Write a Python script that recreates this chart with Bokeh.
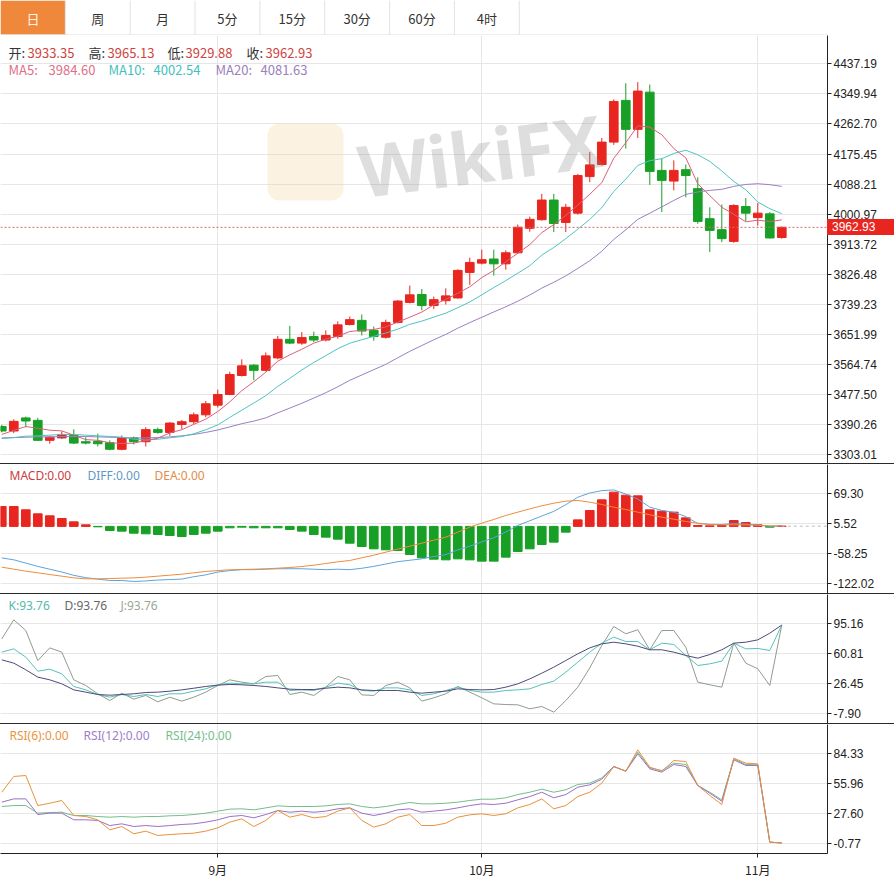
from bokeh.plotting import figure
from bokeh.models import (Range1d, LinearAxis, FixedTicker, Grid, Label, Span,
                          NumeralTickFormatter, ColumnDataSource, Div, BoxAnnotation)
from bokeh.layouts import column
from bokeh.embed import file_html
from bokeh.resources import INLINE
from bokeh.core.properties import value

# ------------------------------------------------------------------ data
TABS = ["日", "周", "月", "5分", "15分", "30分", "60分", "4时"]
MONTH_TICK_IDX = [18, 40, 63]
MONTH_LABELS = ["9月", "10月", "11月"]

PRICE_TICKS = [4437.19, 4349.94, 4262.70, 4175.45, 4088.21, 4000.97, 3913.72,
               3826.48, 3739.23, 3651.99, 3564.74, 3477.50, 3390.26, 3303.01]
MACD_TICKS = [69.30, 5.52, -58.25, -122.02]
KDJ_TICKS = [95.16, 60.81, 26.45, -7.90]
RSI_TICKS = [84.33, 55.96, 27.60, -0.77]

OPEN = [3385, 3372, 3410, 3403, 3345, 3352, 3359, 3341, 3342, 3338,
        3319, 3352, 3341, 3376, 3368, 3391, 3399, 3419, 3447, 3478,
        3533, 3563, 3548, 3584, 3638, 3627, 3646, 3636, 3646, 3681,
        3693, 3664, 3644, 3687, 3745, 3768, 3736, 3750, 3758, 3832,
        3859, 3871, 3857, 3889, 3960, 3985, 4042, 3977, 4004, 4110,
        4145, 4210, 4331, 4247, 4355, 4128, 4097, 4130, 4075, 3988,
        3956, 3922, 4023, 3991, 4002, 3933.35]
HIGH = [3390, 3406, 3414, 3410, 3358, 3371, 3377, 3354, 3364, 3345,
        3359, 3356, 3383, 3382, 3398, 3404, 3426, 3459, 3492, 3544,
        3580, 3566, 3600, 3648, 3677, 3659, 3660, 3664, 3690, 3704,
        3710, 3675, 3695, 3752, 3794, 3784, 3762, 3786, 3841, 3875,
        3898, 3898, 3896, 3971, 3994, 4060, 4060, 4031, 4118, 4181,
        4222, 4334, 4381, 4384, 4377, 4163, 4157, 4145, 4108, 4021,
        4029, 4030, 4048, 4033, 4007, 3965.13]
LOW = [3368, 3366, 3383, 3343, 3335, 3349, 3334, 3333, 3327, 3316,
       3316, 3333, 3327, 3364, 3358, 3377, 3391, 3412, 3440, 3476,
       3530, 3519, 3545, 3580, 3624, 3622, 3630, 3632, 3640, 3678,
       3649, 3634, 3640, 3684, 3742, 3722, 3726, 3739, 3756, 3796,
       3855, 3823, 3840, 3886, 3950, 3982, 3949, 3949, 4000, 4094,
       4142, 4202, 4191, 4222, 4086, 4007, 4070, 4050, 3973, 3891,
       3920, 3918, 3981, 3968, 3930, 3929.88]
CLOSE = [3372, 3400, 3401, 3345, 3354, 3362, 3337, 3337, 3335, 3319,
         3352, 3341, 3376, 3368, 3395, 3399, 3419, 3451, 3478, 3536,
         3561, 3548, 3590, 3638, 3627, 3643, 3636, 3649, 3680, 3695,
         3662, 3646, 3687, 3749, 3767, 3736, 3753, 3764, 3838, 3861,
         3869, 3857, 3889, 3963, 3986, 4042, 3974, 4021, 4113, 4144,
         4210, 4328, 4247, 4358, 4125, 4099, 4128, 4113, 3980, 3954,
         3930, 4026, 4004, 4004, 3932, 3962.93]

MA5 = [3362, 3374, 3385, 3380, 3374.4, 3372.4, 3359.8, 3347, 3345, 3338,
       3336, 3336.8, 3344.6, 3351.2, 3366.4, 3375.8, 3391.4, 3406.4, 3428.4, 3456.6,
       3489, 3514.8, 3542.6, 3574.6, 3592.8, 3609.2, 3626.8, 3638.6, 3647, 3660.6,
       3664.4, 3666.4, 3674, 3687.8, 3702.2, 3717, 3738.4, 3753.8, 3771.6, 3790.4,
       3817, 3837.8, 3862.8, 3887.8, 3912.8, 3947.4, 3970.8, 3997.2, 4027.2, 4058.8,
       4092.4, 4163.2, 4208.4, 4257.4, 4253.6, 4231.4, 4191.4, 4164.6, 4089, 4054.8,
       4021, 4000.6, 3978.8, 3983.6, 3979.2, 3984.60]
MA10 = [3350, 3353, 3357, 3358, 3360, 3362, 3362, 3360, 3358, 3356.2,
        3354.2, 3348.3, 3345.8, 3348.1, 3352.2, 3355.9, 3364.1, 3375.5, 3389.8, 3411.5,
        3432.4, 3453.1, 3474.5, 3501.5, 3524.7, 3549.1, 3570.8, 3590.6, 3610.8, 3626.7,
        3636.8, 3646.6, 3656.3, 3667.4, 3681.4, 3690.7, 3702.4, 3713.9, 3729.7, 3746.3,
        3767, 3788.1, 3808.3, 3829.7, 3851.6, 3882.2, 3904.3, 3930, 3957.5, 3985.8,
        4019.9, 4067, 4102.8, 4142.3, 4156.2, 4161.9, 4177.3, 4186.5, 4173.2, 4154.2,
        4126.2, 4096, 4071.7, 4036.3, 4017, 4002.54]
MA20 = [3352, 3353, 3354, 3355, 3355, 3356, 3356, 3356, 3355, 3354,
        3353, 3352, 3352, 3353, 3355, 3358, 3362, 3368, 3375, 3383.9,
        3393.3, 3400.7, 3410.2, 3424.8, 3438.5, 3452.5, 3467.5, 3483.1, 3500.3, 3519.1,
        3534.6, 3549.9, 3565.4, 3584.5, 3603.1, 3619.9, 3636.6, 3652.3, 3670.3, 3686.5,
        3701.9, 3717.4, 3732.3, 3748.6, 3766.5, 3786.5, 3803.4, 3822, 3843.6, 3866.1,
        3893.5, 3927.6, 3955.6, 3986, 4003.9, 4022.1, 4040.8, 4058.3, 4065.4, 4070,
        4073.1, 4081.5, 4087.3, 4089.3, 4086.6, 4081.63]

MACD_HIST = [42.3, 42.3, 35.2, 26.7, 22.5, 16.8, 9.7, 3.3, -0.9, -8.7,
             -10.1, -14.4, -15.8, -17.2, -19.4, -21.5, -17.2, -14.4, -10.1, -3.0,
             -1.6, -3.0, -3.0, -3.0, -6.6, -10.1, -17.2, -22.9, -27.2, -35.7,
             -42.7, -47.7, -49.8, -51.2, -59.8, -66.8, -69.7, -71.1, -69.0, -71.1,
             -73.9, -73.9, -65.4, -53.4, -47.7, -38.5, -33.5, -12.3, 13.9, 33.8,
             56.5, 72.8, 66.4, 65.0, 35.2, 32.4, 30.3, 18.2, 1.9, 1.2,
             1.9, 12.5, 8.3, 3.3, -1.6, 0.5]
DIFF = [-67, -71, -78, -85, -91, -97, -104, -109, -112, -115,
        -115, -117, -116, -114, -113, -112, -107, -103, -97, -94,
        -92, -92, -91, -90, -90, -90, -91, -92, -91, -92,
        -89, -85, -80, -75, -72, -69, -64, -60, -50, -42,
        -33, -24, -12, 2, 12, 22, 32, 46, 62, 71,
        76, 77.5, 69, 58, 41, 34, 30, 21, 6, 4.5,
        4.2, 6, 5, 3, 0, 1.2]
DEA = [-86.7, -90.9, -95.2, -98.7, -102.3, -105.8, -109.4, -111.5, -111.5, -110.8,
       -110.1, -109.4, -107.9, -105.8, -103.7, -101.6, -98.7, -95.9, -93.8, -92.3,
       -91.6, -90.9, -90.2, -88.8, -87.4, -85.3, -82.4, -78.9, -75.3, -72.5,
       -66.8, -61.2, -54.8, -48.4, -42, -35.7, -29.3, -22.9, -12.3, -1.6,
       6.9, 14.7, 23.2, 30.3, 37.3, 43.7, 49.4, 53.6, 55.1, 51.5,
       46.6, 40.9, 35.9, 30.3, 24.6, 19.6, 15.4, 10.4, 6.9, 4,
       3.3, 3.3, 3.3, 2.6, 1.2, 1.2]

K = [62.7, 66.5, 57, 40.9, 43.2, 37.9, 23.4, 19.5, 14.2, 11.2,
     14.2, 11.9, 14.2, 11.9, 15, 15, 18, 20.7, 25.3, 27.2,
     26.4, 26.4, 28.3, 28.3, 18.8, 19.5, 18.8, 22.6, 27.2, 25.3,
     18.8, 18, 21.8, 21.8, 19.5, 13.1, 15, 18.8, 22.6, 18.8,
     16.9, 16.9, 18.8, 19.5, 20.7, 25.7, 29.5, 39.8, 51.2, 62.7,
     73, 79.9, 74.9, 74.9, 65.4, 73, 71.5, 58.9, 47.4, 49.3,
     52.4, 73, 66.5, 66.9, 64.6, 93.76]
D = [53.9, 50.1, 42.5, 34.1, 31, 26.4, 19.5, 16.9, 14.2, 13.4,
     14.2, 15, 16.5, 16.9, 18, 19.5, 21.4, 23.4, 24.9, 25.7,
     25.3, 24.5, 23.4, 21.8, 20.3, 19.9, 19.9, 21.4, 22.6, 21.8,
     19.5, 18.8, 18.8, 18.8, 16.9, 15.7, 16.9, 18, 20.7, 19.9,
     19.5, 19.9, 22.6, 26.4, 32.1, 38.6, 45.5, 53.1, 60.8, 67.6,
     72.2, 74.1, 72.2, 69.5, 65.4, 65.4, 62.7, 58.9, 55.8, 60,
     65.4, 73, 74.1, 76.8, 84.4, 93.76]
J = [77.9, 99.7, 87.5, 53.1, 67.6, 62.7, 31, 24.5, 15, 7.3,
     15.7, 8.9, 13.1, 5.8, 11.1, 6.6, 11.1, 16.9, 24.5, 31,
     28.3, 26.4, 34.8, 36, 14.2, 16.9, 13.1, 22.6, 34.8, 31,
     13.8, 13.1, 24.5, 28.3, 21.8, 6.6, 10.4, 15, 23.4, 16.9,
     10.4, 3.5, 2.7, 2.4, -2.2, 0.5, -6, 7.3, 22.6, 44.7,
     70.3, 92.1, 83.7, 88.3, 65.4, 87.5, 87.5, 68.4, 28.3, 25.3,
     22.6, 73, 50.1, 43.6, 24.5, 93.76]

RSI6 = [48, 62.9, 63.8, 35.4, 37.6, 40.2, 26, 25, 21.9, 12.4,
        15.6, 8.7, 11.2, 7.1, 8, 8.7, 9.3, 11.2, 14.3, 19.7,
        22.8, 15.6, 21.3, 30.7, 24.4, 26.9, 23.8, 25, 30.1, 33.2,
        21.3, 15, 18.1, 24.4, 26.9, 16.5, 16.5, 18.7, 24.4, 26.6,
        27.6, 26, 27.6, 33.2, 36.4, 41.7, 32.3, 35.4, 43.9, 48,
        56.6, 72.3, 67.9, 88.1, 71.7, 67.9, 78, 77, 54.4, 44.9,
        36.4, 80.2, 75.5, 74.8, 0.8, 0]
RSI12 = [38.6, 41.7, 41.7, 26.9, 28.2, 28.2, 21.9, 21.9, 21.3, 16.5,
         18.1, 15.6, 16.5, 15.6, 16.5, 17.5, 18.1, 19.7, 21.9, 25,
         26, 23.8, 26.9, 30.7, 29.1, 30.1, 29.1, 30.1, 32.3, 33.2,
         28.2, 26, 28.2, 31.3, 32.3, 29.1, 30.1, 31.3, 33.2, 35.4,
         37, 36.4, 37.6, 40.8, 43.9, 48, 42.7, 45.8, 52.8, 55,
         60.3, 72.3, 67.9, 84.3, 70.1, 67, 74.2, 72.3, 54.4, 47.1,
         39.5, 78.6, 73.3, 73.3, 0.8, 0]
RSI24 = [34.5, 35.4, 35.4, 28.2, 28.8, 29.1, 26, 26, 25, 24.4,
         25, 24.4, 25, 25, 25.7, 26, 26.9, 28.2, 30.1, 32,
         32.3, 31.3, 33.2, 35.1, 34.5, 34.5, 34.5, 35.1, 36.4, 37,
         34.5, 33.2, 34.5, 36.4, 38.3, 37, 37, 37.6, 38.6, 40.2,
         41.4, 41.4, 42.7, 45.8, 48, 50.9, 48, 50.3, 55.3, 56.6,
         61.6, 72.3, 67.9, 85.9, 71.1, 68.5, 75.5, 74.2, 54.4, 48,
         40.8, 79.6, 74.2, 73.9, 0.8, 0]

MACD_HDR = [("MACD", 0.00), ("DIFF", 0.00), ("DEA", 0.00)]
KDJ_HDR = [("K", 93.76), ("D", 93.76), ("J", 93.76)]
RSI_HDR = [("RSI(6)", 0.00), ("RSI(12)", 0.00), ("RSI(24)", 0.00)]
WATERMARK = "WikiFX"

# ------------------------------------------------------------------ geometry
N = len(CLOSE)
IDX = list(range(N))
W, RB = 894, 67           # total width, right axis strip
FW = W - RB               # frame width in px (827)
X0, X1 = -0.108, 68.81
XR = Range1d(X0, X1)


def xpx(px):
    return X0 + px / FW * (X1 - X0)


def lin(ya, va, yb, vb):
    return lambda y: va + (y - ya) * (vb - va) / (yb - ya)


y_main = lin(63.3, PRICE_TICKS[0], 454.3, PRICE_TICKS[-1])
y_macd = lin(493.3, MACD_TICKS[0], 583.3, MACD_TICKS[-1])
y_kdj = lin(623.3, KDJ_TICKS[0], 713.3, KDJ_TICKS[-1])
y_rsi = lin(753.3, RSI_TICKS[0], 843.3, RSI_TICKS[-1])

RED, GREEN = "#e8261f", "#17a025"
GRIDC = "#e6e6e6"
AXC = "#222222"
LATIN = "Noto Sans"
CJK = "Noto Sans CJK SC"


def panel(height, yr, bottom=0):
    return figure(width=W, height=height, x_range=XR, y_range=yr,
                  x_axis_type=None, y_axis_type=None,
                  toolbar_location=None, output_backend="svg",
                  min_border_left=0, min_border_right=RB,
                  min_border_top=0, min_border_bottom=bottom,
                  outline_line_color=None, background_fill_color="white",
                  border_fill_color="white")


def add_axes_grid(p, ticks):
    ax = LinearAxis(ticker=FixedTicker(ticks=ticks),
                    formatter=NumeralTickFormatter(format="0.00"))
    ax.axis_line_color = AXC
    ax.major_tick_line_color = AXC
    ax.major_tick_out = 4
    ax.major_tick_in = 0
    ax.minor_tick_out = 0
    ax.minor_tick_in = 0
    ax.major_label_standoff = 2
    ax.major_label_text_font = "Liberation Sans"
    ax.major_label_text_font_size = "12px"
    ax.major_label_text_color = AXC
    p.add_layout(ax, "right")
    p.add_layout(Grid(dimension=1, ticker=FixedTicker(ticks=ticks),
                      grid_line_color=GRIDC))
    p.add_layout(Grid(dimension=0, ticker=FixedTicker(ticks=MONTH_TICK_IDX),
                      grid_line_color=GRIDC))


def lab(p, px, y, text, color, size="12px", font=LATIN):
    p.add_layout(Label(x=xpx(px), y=y, text=text, text_color=color,
                       text_font=font, text_font_size=size,
                       text_baseline="middle", text_align="left"))


def sep():
    return Div(text="", width=W, height=1, margin=0,
               styles={"background-color": "#2a2a2a"})


# ------------------------------------------------------------------ tab bar
TAB_H = 35
tabs = figure(width=W, height=TAB_H, x_range=Range1d(0, W), y_range=Range1d(TAB_H, 0),
              x_axis_type=None, y_axis_type=None, toolbar_location=None,
              output_backend="svg", min_border=0, outline_line_color=None)
TAB_W = 70.1
tl = [i * TAB_W for i in range(len(TABS))]
tr = [v + TAB_W for v in tl]
tabs.quad(left=tl, right=tr, top=0, bottom=34,
          fill_color=["#f0883c"] + ["white"] * (len(TABS) - 1), line_color=None)
tabs.segment(x0=tr, y0=0, x1=tr, y1=34, line_color="#e2e2e2")
tabs.segment(x0=[0], y0=[34.5], x1=[W], y1=[34.5], line_color="#dcdcdc")
tabs.text(x=[v + TAB_W / 2 for v in tl], y=17.5, text=TABS,
          text_font=value(CJK), text_font_size="13px",
          text_align="center", text_baseline="middle",
          text_color=["#fff4ea"] + ["#333333"] * (len(TABS) - 1))

# ------------------------------------------------------------------ price panel
MAIN_TOP, MAIN_BOT = 35, 463
MAIN_H = MAIN_BOT - MAIN_TOP
main_lo, main_hi = y_main(MAIN_BOT), y_main(MAIN_TOP)
main = panel(MAIN_H, Range1d(main_lo, main_hi))
add_axes_grid(main, PRICE_TICKS)
csrc = ColumnDataSource(dict(
    x=IDX, high=HIGH, low=LOW,
    top=[max(o, c) for o, c in zip(OPEN, CLOSE)],
    bottom=[min(o, c) for o, c in zip(OPEN, CLOSE)],
    color=[RED if c >= o else GREEN for o, c in zip(OPEN, CLOSE)]))
main.segment(x0="x", y0="low", x1="x", y1="high", line_color="color",
             line_width=1, source=csrc)
main.vbar(x="x", width=0.72, top="top", bottom="bottom", fill_color="color",
          line_color="color", source=csrc)
main.line(IDX, MA20, line_color="#9a7fbf", line_width=1)
main.line(IDX, MA10, line_color="#4fc3c0", line_width=1)
main.line(IDX, MA5, line_color="#d9607a", line_width=1)
main.add_layout(Span(location=CLOSE[-1], dimension="width", line_color="#d46a6a",
                     line_dash="2 2", line_width=1))

# faint source watermark (logo tile + word) over the upper part of the chart
wm_box = dict(left=xpx(267), right=xpx(343), top=y_main(123), bottom=y_main(200),
              fill_color="#f3d49e", fill_alpha=0.30, line_color=None)
try:
    main.add_layout(BoxAnnotation(border_radius=12, **wm_box))
except Exception:
    main.add_layout(BoxAnnotation(**wm_box))
main.add_layout(Label(x=xpx(358), y=y_main(170), text=WATERMARK, angle=0.13,
                      text_font=LATIN, text_font_style="bold", text_font_size="72px",
                      text_color="#8a8a8a", text_alpha=0.28,
                      text_align="left", text_baseline="alphabetic"))

VALC = "#d0443e"
hy1, hy2 = y_main(52), y_main(69)
for px, txt, vpx, val in [(8, "开:", 27, OPEN[-1]), (88, "高:", 107, HIGH[-1]),
                          (167, "低:", 185, LOW[-1]), (246, "收:", 265, CLOSE[-1])]:
    lab(main, px, hy1, txt, "#333333", "13px", CJK)
    lab(main, vpx, hy1, f"{val:.2f}", VALC, "13px", CJK)
for px, txt, vpx, val, col in [(8, "MA5:", 48, MA5[-1], "#df6f8a"),
                               (108, "MA10:", 153, MA10[-1], "#43bfbd"),
                               (215, "MA20:", 260, MA20[-1], "#9b80bd")]:
    lab(main, px, hy2, txt, col, "13px", CJK)
    lab(main, vpx, hy2, f"{val:.2f}", col, "13px", CJK)

# current-price tag in the axis strip: a zero-net-height box laid over the strip
TAG_H = 16
tag_top = (main_hi - CLOSE[-1]) / (main_hi - main_lo) * MAIN_H - TAG_H / 2
mt = -int(round(MAIN_H - tag_top))
tag = Div(text=f"{CLOSE[-1]:.2f}", width=RB, height=TAG_H,
          margin=(mt, 0, -(mt + TAG_H), FW),
          styles={"background-color": RED, "color": "white",
                  "font-family": "Liberation Sans, Arial, sans-serif",
                  "font-size": "12px", "line-height": f"{TAG_H}px",
                  "padding-left": "5px", "box-sizing": "border-box",
                  "position": "relative", "z-index": "10", "overflow": "hidden"})

# ------------------------------------------------------------------ MACD panel
MACD_TOP, MACD_BOT = 464, 593
macd = panel(MACD_BOT - MACD_TOP, Range1d(y_macd(MACD_BOT), y_macd(MACD_TOP)))
add_axes_grid(macd, MACD_TICKS)
msrc = ColumnDataSource(dict(x=IDX, top=MACD_HIST, bottom=[0] * N,
                             color=[RED if v >= 0 else GREEN for v in MACD_HIST]))
macd.vbar(x="x", width=0.72, top="top", bottom="bottom", fill_color="color",
          line_color="color", source=msrc)
macd.line(IDX, DIFF, line_color="#5fa3dc", line_width=1)
macd.line(IDX, DEA, line_color="#ec8d3e", line_width=1)
macd.segment(x0=[N - 1], y0=[MACD_HIST[-1]], x1=[X1], y1=[MACD_HIST[-1]],
             line_color="#bbbbbb", line_dash="3 3", line_width=1)
my = y_macd(474.7)
for (name, v), px, col in zip(MACD_HDR, [9, 87, 154], ["#c9403c", "#5f98c8", "#df8d4a"]):
    lab(macd, px, my, f"{name}:{v:.2f}", col)

# ------------------------------------------------------------------ KDJ panel
KDJ_TOP, KDJ_BOT = 594, 723
kdj = panel(KDJ_BOT - KDJ_TOP, Range1d(y_kdj(KDJ_BOT), y_kdj(KDJ_TOP)))
add_axes_grid(kdj, KDJ_TICKS)
kdj.line(IDX, J, line_color="#8e9c8e", line_width=1)
kdj.line(IDX, K, line_color="#55c1bb", line_width=1)
kdj.line(IDX, D, line_color="#4d4a78", line_width=1)
ky = y_kdj(604.7)
for (name, v), px, col in zip(KDJ_HDR, [8, 64, 120], ["#56b8ae", "#666666", "#98a892"]):
    lab(kdj, px, ky, f"{name}:{v:.2f}", col)

# ------------------------------------------------------------------ RSI panel
RSI_TOP, RSI_BOT, XAX_H = 724, 853, 27
rsi = panel(RSI_BOT - RSI_TOP + XAX_H, Range1d(y_rsi(RSI_BOT), y_rsi(RSI_TOP)),
            bottom=XAX_H)
add_axes_grid(rsi, RSI_TICKS)
rsi.line(IDX, RSI24, line_color="#74bc8c", line_width=1)
rsi.line(IDX, RSI12, line_color="#9a70c4", line_width=1)
rsi.line(IDX, RSI6, line_color="#e8913c", line_width=1)
ry = y_rsi(734.7)
for (name, v), px, col in zip(RSI_HDR, [9, 83, 165], ["#e8953f", "#a07ccb", "#78bd8e"]):
    lab(rsi, px, ry, f"{name}:{v:.2f}", col)
xax = LinearAxis(ticker=FixedTicker(ticks=MONTH_TICK_IDX),
                 major_label_overrides={t: s for t, s in zip(MONTH_TICK_IDX, MONTH_LABELS)})
xax.axis_line_color = AXC
xax.major_tick_line_color = AXC
xax.major_tick_out = 4
xax.major_tick_in = 0
xax.minor_tick_out = 0
xax.minor_tick_in = 0
xax.major_label_standoff = 3
xax.major_label_text_font = CJK
xax.major_label_text_font_size = "12px"
xax.major_label_text_color = AXC
rsi.add_layout(xax, "below")

layout = column(tabs, main, tag, sep(), macd, sep(), kdj, sep(), rsi, spacing=0)
open("out.html", "w").write(file_html(layout, INLINE))
